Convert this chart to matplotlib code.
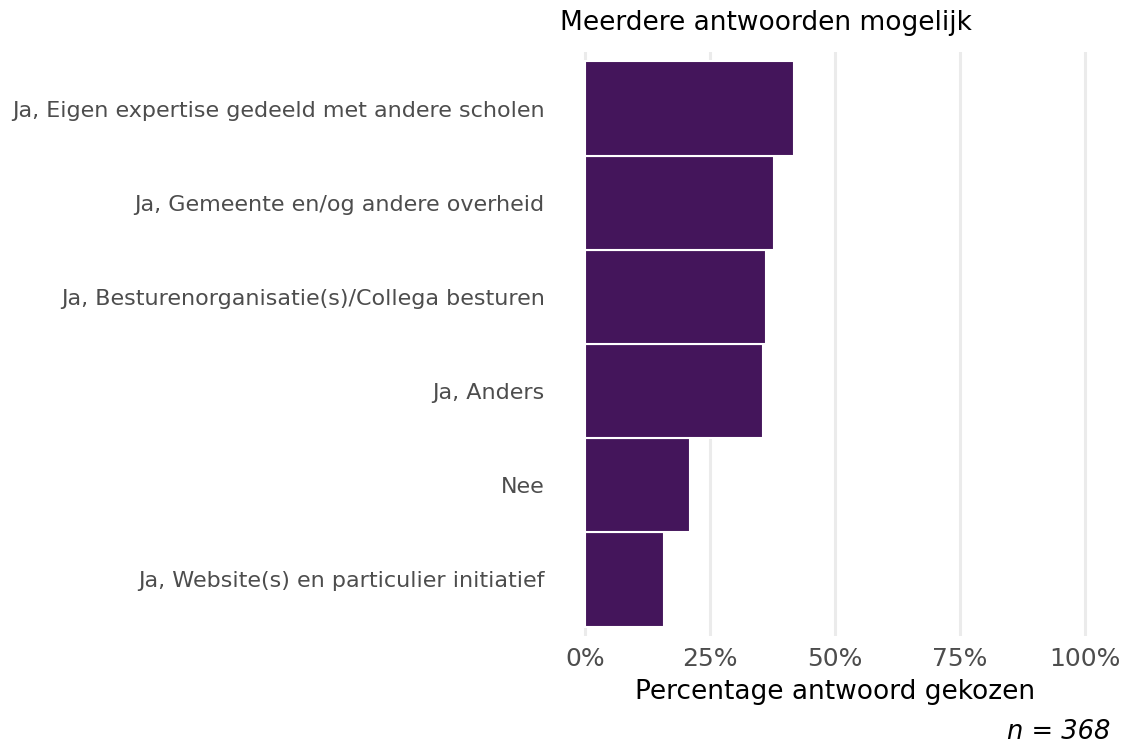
import matplotlib
matplotlib.use("Agg")
import matplotlib.pyplot as plt
from matplotlib.ticker import FuncFormatter

categories = [
    "Ja, Website(s) en particulier initiatief",
    "Nee",
    "Ja, Anders",
    "Ja, Besturenorganisatie(s)/Collega besturen",
    "Ja, Gemeente en/og andere overheid",
    "Ja, Eigen expertise gedeeld met andere scholen",
]
percentages = [15.8, 20.9, 35.6, 36.1, 37.8, 41.8]
x_ticks = [0, 25, 50, 75, 100]
title = "Meerdere antwoorden mogelijk"
x_label = "Percentage antwoord gekozen"
caption = "n = 368"

W, H = 1134, 748
fig = plt.figure(figsize=(W / 100, H / 100), dpi=100)
ax = fig.add_axes([560 / W, 1 - 636 / H, 550 / W, 584 / H])

ypos = list(range(1, len(categories) + 1))
ax.barh(ypos, percentages, height=1.0, color="#44155B", edgecolor="white",
        linewidth=1.5, zorder=3)

ax.set_xlim(-5, 105)
ax.set_ylim(0.4, 6.6)
ax.set_xticks(x_ticks)
ax.xaxis.set_major_formatter(FuncFormatter(lambda v, p: f"{v:.0f}%"))
ax.set_yticks(ypos)
ax.set_yticklabels(categories)
ax.grid(axis="x", color="#EBEBEB", linewidth=2.2, zorder=0)
ax.grid(axis="y", visible=False)
for s in ax.spines.values():
    s.set_visible(False)
ax.tick_params(axis="x", length=0, labelsize=18, labelcolor="#4D4D4D", pad=8)
ax.tick_params(axis="y", length=0, labelsize=16, labelcolor="#4D4D4D", pad=11)
ax.set_xlabel(x_label, fontsize=19, color="black", labelpad=6)

fig.text(560 / W, 1 - 23 / H, title, fontsize=19, color="black",
         ha="left", va="center")
fig.text(1110 / W, 1 - 732 / H, caption, fontsize=18.5, color="black",
         ha="right", va="center", style="italic")

fig.savefig("out.png", dpi=100, facecolor="white")
